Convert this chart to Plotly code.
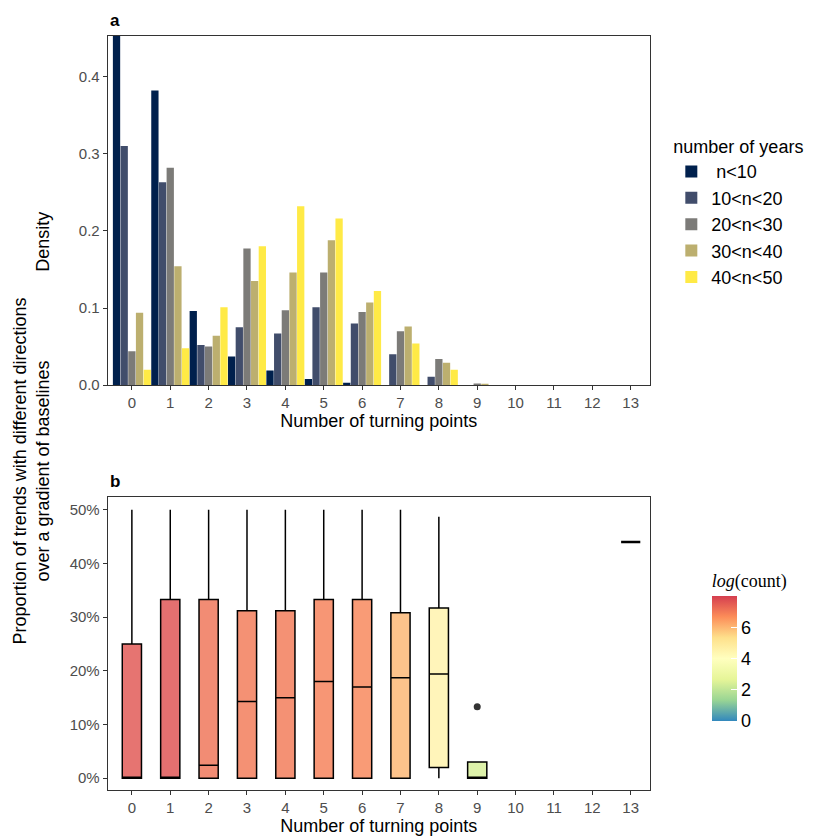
import plotly.graph_objs as go
from plotly.colors import sample_colorscale

# panel a: density of turning points per record length
turning = list(range(14))
groups = [' n<10', '10<n<20', '20<n<30', '30<n<40', '40<n<50']
group_colors = ['#00204D', '#414D6B', '#7C7B78', '#BCAF6F', '#FFEA46']
dens = {
    ' n<10':   [0.46, 0.382, 0.096, 0.037, 0.019, 0.008, 0.003, 0, 0, 0, 0, 0, 0, 0],
    '10<n<20': [0.310, 0.263, 0.052, 0.075, 0.067, 0.101, 0.080, 0.040, 0.011, 0, 0, 0, 0, 0],
    '20<n<30': [0.044, 0.282, 0.050, 0.177, 0.097, 0.146, 0.095, 0.070, 0.034, 0.002, 0, 0, 0, 0],
    '30<n<40': [0.094, 0.154, 0.064, 0.135, 0.146, 0.188, 0.107, 0.076, 0.029, 0.001, 0, 0, 0, 0],
    '40<n<50': [0.020, 0.048, 0.101, 0.180, 0.232, 0.216, 0.122, 0.054, 0.020, 0, 0, 0, 0, 0],
}

# panel b: box stats of proportion of trends with different directions
box_x = [0, 1, 2, 3, 4, 5, 6, 7, 8, 9, 13]
box_low = [0, 0, 0, 0, 0, 0, 0, 0, 0, 0, 0.44]
box_q1 = [0, 0, 0, 0, 0, 0, 0, 0, 0.02, 0, 0.44]
box_med = [0, 0, 0.024, 0.143, 0.150, 0.180, 0.170, 0.187, 0.194, 0, 0.44]
box_q3 = [0.25, 0.333, 0.333, 0.312, 0.312, 0.333, 0.333, 0.308, 0.317, 0.03, 0.44]
box_up = [0.5, 0.5, 0.5, 0.5, 0.5, 0.5, 0.5, 0.5, 0.487, 0.03, 0.44]
log_count = [7.6, 7.7, 7.1, 7.0, 7.0, 6.9, 6.8, 6.0, 4.5, 2.4, 0]
outlier_x = [9]
outlier_y = [0.133]
cmax = 8.0

spectral = [[0, '#3288BD'], [1/6, '#99D594'], [2/6, '#E6F598'], [3/6, '#FFFFBF'],
            [4/6, '#FEE08B'], [5/6, '#FC8D59'], [1, '#D53E4F']]

font = dict(family='Liberation Sans, Arial', size=15, color='#4D4D4D')
title_font = dict(family='Liberation Sans', size=18, color='black')
fig = go.Figure()

for g, c in zip(groups, group_colors):
    fig.add_trace(go.Bar(x=turning, y=dens[g], name=g, marker=dict(color=c, line=dict(width=0)),
                         xaxis='x', yaxis='y'))


def with_alpha(c, a):
    return c.replace('rgb(', 'rgba(').replace(')', f',{a})')


fills = sample_colorscale(spectral, [v / cmax for v in log_count])
for i, xv in enumerate(box_x):
    fill = with_alpha(fills[i], 0.82) if xv != 13 else 'rgba(0,0,0,0)'
    fig.add_trace(go.Box(x=[xv], q1=[box_q1[i]], median=[box_med[i]], q3=[box_q3[i]],
                         lowerfence=[box_low[i]], upperfence=[box_up[i]],
                         fillcolor=fill, line=dict(color='black', width=1.5 if xv != 13 else 2.5),
                         width=0.5, whiskerwidth=0, xaxis='x2', yaxis='y2', showlegend=False,
                         hoverinfo='skip'))
fig.add_trace(go.Scatter(x=outlier_x, y=outlier_y, mode='markers', marker=dict(color='#333', size=7),
                         xaxis='x2', yaxis='y2', showlegend=False))
# colorbar only
fig.add_trace(go.Scatter(x=[None], y=[None], mode='markers', xaxis='x2', yaxis='y2', showlegend=False,
                         marker=dict(color=[0, cmax], colorscale=spectral, cmin=0, cmax=cmax,
                                     showscale=True,
                                     colorbar=dict(x=0.842, xanchor='left', y=0.241, yanchor='middle',
                                                   len=0.18, lenmode='fraction', ypad=0, thickness=25,
                                                   outlinewidth=0,
                                                   tickvals=[0, 2, 4, 6], ticks='inside',
                                                   tickcolor='white', ticklen=6,
                                                   tickfont=dict(family='Liberation Sans', size=18, color='black'),
                                                   title=dict(text='<i>log</i>(count)<br> ', side='top',
                                                              font=dict(family='Liberation Serif', size=18, color='black'))))))

ax = dict(showline=True, mirror=True, linecolor='#333', linewidth=1, ticks='outside',
          tickcolor='#333', ticklen=4, showgrid=False, zeroline=False, tickfont=font)
fig.update_layout(
    width=824, height=840, margin=dict(l=0, r=0, t=0, b=0, autoexpand=False),
    plot_bgcolor='white', paper_bgcolor='white', barmode='group',
    bargap=0.0, bargroupgap=0.05,
    xaxis=dict(ax, domain=[0.121, 0.779], range=[-0.63, 13.5], tickvals=turning,
               title=dict(text='Number of turning points', font=title_font, standoff=2)),
    yaxis=dict(ax, domain=[0.551, 0.967], range=[0, 0.453], tickvals=[0, 0.1, 0.2, 0.3, 0.4], tickformat='.1f'),
    xaxis2=dict(ax, domain=[0.121, 0.779], range=[-0.63, 13.5], tickvals=turning, anchor='y2',
                title=dict(text='Number of turning points', font=title_font, standoff=2)),
    yaxis2=dict(ax, domain=[0.069, 0.418], range=[-0.022, 0.524], tickvals=[0, 0.1, 0.2, 0.3, 0.4, 0.5],
                tickformat='.0%', anchor='x2'),
    legend=dict(x=0.805, y=0.855, xanchor='left', yanchor='top', tracegroupgap=0, itemwidth=30,
                font=dict(family='Liberation Sans', size=18, color='black'),
                title=dict(text='number of years', font=title_font)),
    annotations=[
        dict(text='<b>a</b>', x=0.121, y=0.972, xref='paper', yref='paper', xanchor='left', yanchor='bottom',
             showarrow=False, font=dict(family='Liberation Sans', size=17, color='black')),
        dict(text='<b>b</b>', x=0.121, y=0.423, xref='paper', yref='paper', xanchor='left', yanchor='bottom',
             showarrow=False, font=dict(family='Liberation Sans', size=17, color='black')),
        dict(text='Density', x=0.028, y=0.76, xref='paper', yref='paper', textangle=-90,
             xanchor='left', showarrow=False, font=title_font),
        dict(text='Proportion of trends with different directions<br>over a gradient of baselines',
             x=0.0, y=0.24, xref='paper', yref='paper', textangle=-90, xanchor='left',
             showarrow=False, font=title_font),
    ],
)
fig.write_html('out.html')
